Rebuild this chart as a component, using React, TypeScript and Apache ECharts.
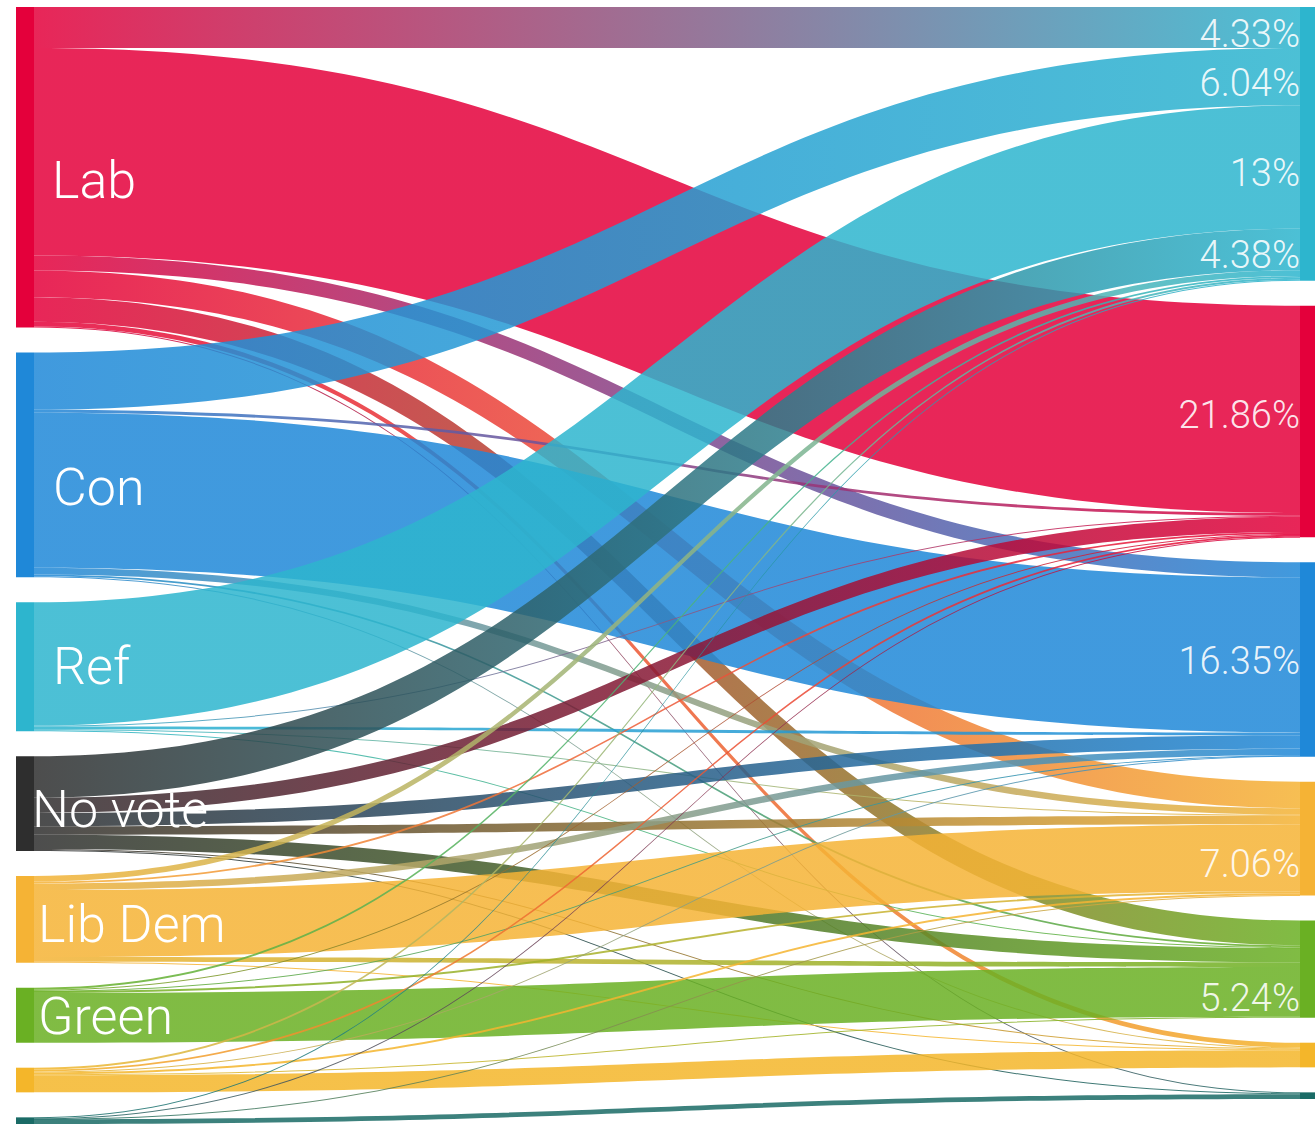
import React, { useEffect, useRef } from "react";
import * as echarts from "echarts";

// Left column: 2024 vote; right column: current intention
const leftNodes = ["Lab", "Con", "Ref", "No vote", "Lib Dem", "Green", "SNP", "Plaid"];
const leftLabels = ["Lab", "Con", "Ref", "No vote", "Lib Dem", "Green", "", ""];
const rightNodes = ["Ref", "Lab", "Con", "Lib Dem", "Green", "SNP", "Plaid"];

// Flows (% of all respondents) from each left node, in rightNodes order
const fromLab = [4.33, 21.86, 1.6, 2.8, 2.6, 0.5, 0.1];
const fromCon = [6.04, 0.3, 16.35, 0.7, 0.2, 0.1, 0];
const fromRef = [13, 0.1, 0.3, 0.1, 0.1, 0, 0];
const fromNoVote = [4.38, 1.6, 1.4, 0.9, 1.5, 0.1, 0.1];
const fromLibDem = [0.6, 0.2, 0.7, 7.06, 0.5, 0.1, 0];
const fromGreen = [0.2, 0.1, 0.05, 0.2, 5.24, 0, 0];
const fromSnp = [0.2, 0.2, 0.1, 0.2, 0.1, 1.8, 0];
const fromPlaid = [0.1, 0.05, 0, 0.05, 0, 0, 0.5];

const flowRows = [fromLab, fromCon, fromRef, fromNoVote, fromLibDem, fromGreen, fromSnp, fromPlaid];

// Links at or above this share get a percentage label
const labelThreshold = 4;

// Styles (kept apart from data)
const partyColors: Record<string, string> = {
  Lab: "#E4003B",
  Con: "#1F88D8",
  Ref: "#2DB5CE",
  "No vote": "#2E2E2E",
  "Lib Dem": "#F5B335",
  Green: "#6AB023",
  SNP: "#F4B62A",
  Plaid: "#1A6B66",
};
const labelShift: Record<string, [number, number]> = {
  Lab: [18, 13],
  Con: [19, 23],
  Ref: [19, 0],
  "No vote": [-2, 6],
  "Lib Dem": [4, 5],
  Green: [4, 1],
};

const SERIES_LEFT = 16;
const SERIES_TOP = 7;

const rightId = (n: string) => n + " (now)";

export default function App() {
  const ref = useRef<HTMLDivElement>(null);

  useEffect(() => {
    if (!ref.current) return;
    const chart = echarts.init(ref.current, null, { renderer: "svg" });

    const nodes: any[] = [];
    leftNodes.forEach((n, i) => {
      const shift = labelShift[n] || [0, 0];
      nodes.push({
        name: n,
        itemStyle: { color: partyColors[n] },
        label: {
          show: leftLabels[i] !== "",
          formatter: leftLabels[i],
          position: "right",
          distance: 0,
          offset: shift,
        },
      });
    });
    rightNodes.forEach((n) => {
      nodes.push({
        name: rightId(n),
        itemStyle: { color: partyColors[n] },
        label: { show: false },
      });
    });

    const links: any[] = [];
    const linkTargets: number[] = [];
    flowRows.forEach((row, i) => {
      row.forEach((v, j) => {
        if (v > 0) {
          links.push({ source: leftNodes[i], target: rightId(rightNodes[j]), value: v });
          linkTargets.push(leftNodes.length + j);
        }
      });
    });

    chart.setOption({
      animation: false,
      series: [
        {
          type: "sankey",
          left: SERIES_LEFT,
          top: SERIES_TOP,
          width: 1302,
          height: 1117,
          nodeWidth: 18,
          nodeGap: 25,
          layoutIterations: 0,
          draggable: false,
          emphasis: { disabled: true },
          silent: true,
          itemStyle: { borderWidth: 0 },
          lineStyle: { color: "gradient", opacity: 0.85, curveness: 0.5 },
          label: {
            color: "#ffffff",
            fontFamily: "Roboto",
            fontWeight: 300,
            fontSize: 52,
          },
          data: nodes,
          links: links,
        },
      ],
    });

    // Percentage labels at the target end of the larger flows, placed from the sankey's own layout
    const texts: any[] = [];
    try {
      const model: any = (chart as any).getModel().getSeriesByIndex(0);
      const info = model.layoutInfo;
      const ox = info && typeof info.x === "number" ? info.x : SERIES_LEFT;
      const oy = info && typeof info.y === "number" ? info.y : SERIES_TOP;
      const nodeData = model.getData();
      const edgeData = model.getEdgeData();
      links.forEach((link, i) => {
        if (link.value < labelThreshold) return;
        const el = edgeData.getItemLayout(i);
        const n2 = nodeData.getItemLayout(linkTargets[i]);
        if (!el || !n2) return;
        texts.push({
          type: "text",
          z: 100,
          x: ox + n2.x,
          y: oy + n2.y + el.ty + el.dy / 2 + 6,
          silent: true,
          style: {
            text: link.value + "%",
            fill: "rgba(255,255,255,0.9)",
            font: "300 38px Roboto",
            textAlign: "right",
            textVerticalAlign: "middle",
            align: "right",
            verticalAlign: "middle",
          },
        });
      });
    } catch (e) {
      // layout not reachable: skip labels
    }
    if (texts.length) chart.setOption({ graphic: { elements: texts } });

    return () => chart.dispose();
  }, []);

  return (
    <div
      ref={ref}
      style={{ position: "fixed", left: 0, top: 0, width: 1315, height: 1126, background: "#ffffff" }}
    />
  );
}
